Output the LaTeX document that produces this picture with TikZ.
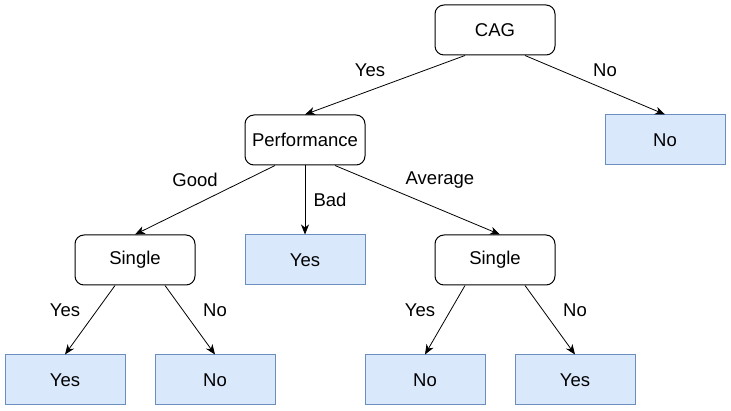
\documentclass[tikz,border=0pt]{standalone}
\usepackage{fontspec}
\setmainfont{Liberation Sans}
\usetikzlibrary{arrows.meta}
\definecolor{bfill}{HTML}{DAE8FC}
\definecolor{bdraw}{HTML}{6C8EBF}
\tikzset{
  dec/.style={draw=black, rounded corners=9pt, minimum width=120pt, minimum height=50pt, inner sep=0pt, font=\fontsize{18.5pt}{21pt}\selectfont, line width=1pt},
  leaf/.style={draw=bdraw, fill=bfill, minimum width=120pt, minimum height=50pt, inner sep=0pt, font=\fontsize{18.5pt}{21pt}\selectfont, line width=1pt},
  conn/.style={-{Stealth[length=10pt,width=8pt,inset=3pt]}, line width=0.8pt},
  lbl/.style={font=\fontsize{18.5pt}{21pt}\selectfont, inner sep=0pt}
}
\begin{document}
\begin{tikzpicture}[x=1pt,y=-1pt]
\useasboundingbox (0,0) rectangle (731,411);
\node[dec] (cag) at (495,30) {CAG};
\node[dec] (perf) at (305,140) {Performance};
\node[leaf] (no1) at (665,140) {No};
\node[dec] (s1) at (135,260) {Single};
\node[leaf] (yes1) at (305,260) {Yes};
\node[dec] (s2) at (495,260) {Single};
\node[leaf] (yes2) at (65,380) {Yes};
\node[leaf] (no2) at (215,380) {No};
\node[leaf] (no3) at (425,380) {No};
\node[leaf] (yes3) at (575,380) {Yes};

\draw[conn] ([xshift=-30pt]cag.south) -- (perf.north);
\draw[conn] ([xshift=30pt]cag.south) -- (no1.north);
\draw[conn] ([xshift=-30pt]perf.south) -- (s1.north);
\draw[conn] (perf.south) -- (yes1.north);
\draw[conn] ([xshift=30pt]perf.south) -- ([xshift=5pt]s2.north);
\draw[conn] ([xshift=-20pt]s1.south) -- (yes2.north);
\draw[conn] ([xshift=30pt]s1.south) -- (no2.north);
\draw[conn] ([xshift=-30pt]s2.south) -- (no3.north);
\draw[conn] ([xshift=30pt]s2.south) -- (yes3.north);

\node[lbl] (l1) at (370,70) {Yes};
\node[lbl] (l2) at (605,70) {No};
\node[lbl] (l3) at (195,180) {Good};
\node[lbl] (l4) at (330,200) {Bad};
\node[lbl] (l5) at (440,180) {Average};
\node[lbl] (l6) at (65,310) {Yes};
\node[lbl] (l7) at (215,310) {No};
\node[lbl] (l8) at (420,310) {Yes};
\node[lbl] (l9) at (575,310) {No};
\end{tikzpicture}
\end{document}
